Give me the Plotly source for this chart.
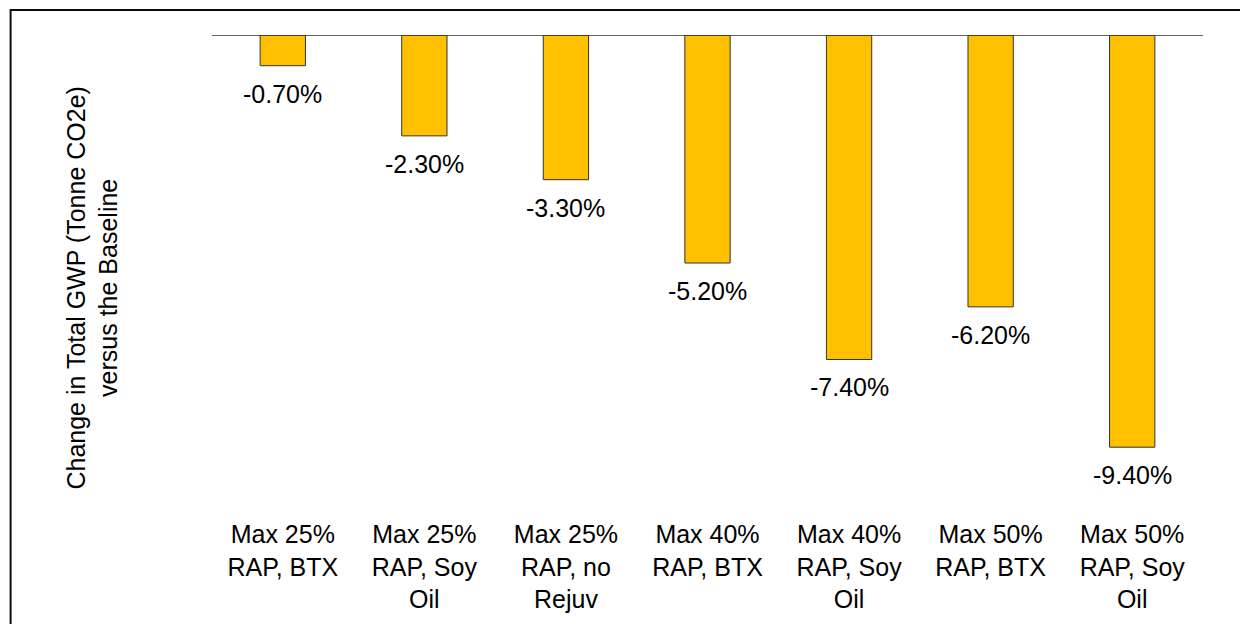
import plotly.graph_objects as go

categories = [
    "Max 25%<br>RAP, BTX",
    "Max 25%<br>RAP, Soy<br>Oil",
    "Max 25%<br>RAP, no<br>Rejuv",
    "Max 40%<br>RAP, BTX",
    "Max 40%<br>RAP, Soy<br>Oil",
    "Max 50%<br>RAP, BTX",
    "Max 50%<br>RAP, Soy<br>Oil",
]
values = [-0.70, -2.30, -3.30, -5.20, -7.40, -6.20, -9.40]
value_labels = [f"{v:.2f}%" for v in values]
y_title = "Change in Total GWP (Tonne CO2e)<br>versus the Baseline"

FONT = "Arial, Liberation Sans, sans-serif"

# page body has an 8px margin; work in screen pixels and convert
OFF = 8
W, H = 1248, 624
PLOT_L, PLOT_R, PLOT_T, PLOT_B = 211.5, 1203, 35, 517
L = PLOT_L - OFF
T = PLOT_T - OFF
R = W - (PLOT_R - OFF)
B = H - (PLOT_B - OFF)
pw, ph = W - L - R, H - T - B

def sx(px):
    return (px - OFF - L) / pw

def sy(py):
    return (H - B - (py - OFF)) / ph

fig = go.Figure()
fig.add_trace(go.Bar(
    x=categories, y=values,
    marker=dict(color="#FFC000", line=dict(color="#333333", width=1)),
    hoverinfo="skip",
))

annotations = []
for c, v, t in zip(categories, values, value_labels):
    annotations.append(dict(
        x=c, y=v, xref="x", yref="y", text=t, showarrow=False,
        yanchor="top", xanchor="center", yshift=-12,
        font=dict(family=FONT, size=25, color="#000000"),
    ))
annotations.append(dict(
    x=sx(91), y=sy(288), xref="paper", yref="paper",
    text=y_title, showarrow=False, textangle=-90,
    xanchor="center", yanchor="middle",
    font=dict(family=FONT, size=25, color="#000000"),
))

shapes = [
    dict(type="line", xref="paper", yref="y", x0=0, x1=1, y0=0, y1=0,
         line=dict(color="#303030", width=1.5)),
    dict(type="rect", xref="paper", yref="paper",
         x0=sx(10), x1=sx(1300), y0=sy(700), y1=sy(10),
         line=dict(color="#0d0d0d", width=2), fillcolor="rgba(0,0,0,0)"),
]

fig.update_layout(
    width=W, height=H,
    margin=dict(l=L, r=R, t=T, b=B, autoexpand=False),
    paper_bgcolor="white", plot_bgcolor="white",
    showlegend=False,
    bargap=0.68,
    annotations=annotations,
    shapes=shapes,
    font=dict(family=FONT, size=25, color="#000000"),
)
fig.update_xaxes(
    showline=False, showgrid=False, zeroline=False, ticks="",
    tickfont=dict(family=FONT, size=25, color="#000000"),
    automargin=False,
)
fig.update_yaxes(
    range=[-(PLOT_B - PLOT_T) / 43.85, 0], showgrid=False, zeroline=False,
    showticklabels=False, showline=False, ticks="", automargin=False,
)

fig.write_html("out.html")
